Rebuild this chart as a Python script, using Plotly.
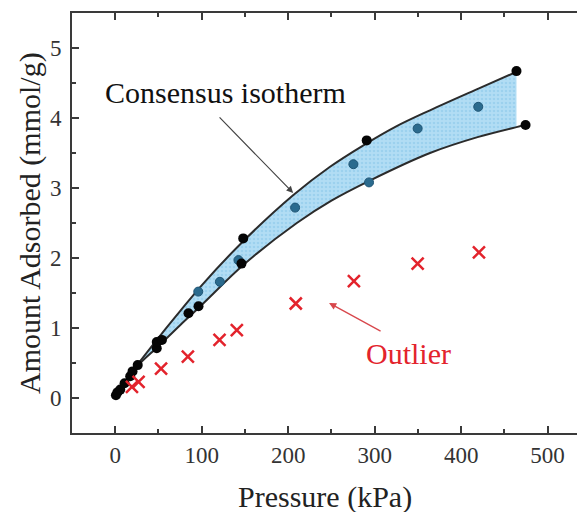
import plotly.graph_objects as go

# ---- data ----
upper_x = [0, 10, 26, 50, 75, 100, 148, 206, 248, 287, 325, 364, 420, 464]
upper_y = [0.05, 0.20, 0.48, 0.86, 1.24, 1.61, 2.24, 2.90, 3.30, 3.61, 3.88, 4.11, 4.42, 4.66]

lower_x = [0, 10, 26, 50, 75, 100, 150, 210, 250, 295, 364, 420, 464, 474.5]
lower_y = [0.05, 0.20, 0.46, 0.74, 1.04, 1.33, 1.92, 2.50, 2.82, 3.11, 3.50, 3.73, 3.87, 3.90]

black_x = [0.8, 2.5, 5.8, 10.8, 17.3, 20, 26, 48, 48, 54, 84.7, 96.3, 146, 148, 290.8, 464, 474.5]
black_y = [0.04, 0.08, 0.12, 0.21, 0.31, 0.38, 0.47, 0.71, 0.80, 0.83, 1.21, 1.31, 1.92, 2.28, 3.68, 4.67, 3.90]

teal_x = [96, 121, 142.5, 208, 275.4, 293.5, 349.7, 419.8]
teal_y = [1.52, 1.66, 1.97, 2.72, 3.34, 3.08, 3.85, 4.16]

outlier_x = [19.3, 27, 53, 84, 120.6, 140.6, 208.8, 276, 349.7, 420.6]
outlier_y = [0.16, 0.23, 0.42, 0.59, 0.83, 0.97, 1.35, 1.67, 1.92, 2.08]

x_ticks = [0, 100, 200, 300, 400, 500]
y_ticks = [0, 1, 2, 3, 4, 5]

FONT = "Liberation Serif"
LINE = "#2b2b2b"
RED = "#e3232c"

fig = go.Figure()

# band fill: lower boundary (to end of band), then upper with tonexty
n_band = len(lower_x) - 1
fig.add_trace(go.Scatter(x=lower_x[:n_band], y=lower_y[:n_band], mode="lines",
                         line=dict(color="rgba(0,0,0,0)", width=0, shape="spline"),
                         hoverinfo="skip", showlegend=False))
fig.add_trace(go.Scatter(x=upper_x, y=upper_y, mode="lines", fill="tonexty",
                         fillcolor="#aad9f2",
                         fillpattern=dict(shape=".", fgcolor="#86c6e8", bgcolor="#b2ddf4",
                                          size=4, solidity=0.35),
                         line=dict(color="rgba(0,0,0,0)", width=0, shape="spline"),
                         hoverinfo="skip", showlegend=False))
# boundary curves
fig.add_trace(go.Scatter(x=upper_x, y=upper_y, mode="lines",
                         line=dict(color=LINE, width=2, shape="spline"), showlegend=False))
fig.add_trace(go.Scatter(x=lower_x, y=lower_y, mode="lines",
                         line=dict(color=LINE, width=2, shape="spline"), showlegend=False))

# data points
fig.add_trace(go.Scatter(x=teal_x, y=teal_y, mode="markers",
                         marker=dict(color="#2b6b8e", size=9,
                                     line=dict(color="#1f5575", width=1)),
                         showlegend=False))
fig.add_trace(go.Scatter(x=black_x, y=black_y, mode="markers",
                         marker=dict(color="#050505", size=10, line=dict(width=0)),
                         showlegend=False))
fig.add_trace(go.Scatter(x=outlier_x, y=outlier_y, mode="markers",
                         marker=dict(symbol="x-thin", size=12,
                                     line=dict(color=RED, width=2.5), color=RED),
                         showlegend=False))

axis_common = dict(
    showgrid=False, zeroline=False, showline=True, linecolor="#3a3a3a", linewidth=2,
    ticks="inside", ticklen=7, tickwidth=1.5, tickcolor="#3a3a3a",
    tickfont=dict(family=FONT, size=23, color="#333333"),
)

fig.update_xaxes(**axis_common, range=[-50, 534], tickvals=x_ticks, mirror="ticks",
                 minor=dict(ticks="inside", ticklen=4, dtick=50, tick0=0,
                            tickcolor="#3a3a3a", tickwidth=1.5),
                 ticklabelstandoff=0)
fig.update_yaxes(**axis_common, range=[-0.5, 5.5], tickvals=y_ticks, mirror=False,
                 minor=dict(ticks="inside", ticklen=4, dtick=0.5, tick0=0,
                            tickcolor="#3a3a3a", tickwidth=1.5),
                 ticklabelstandoff=4)

annotations = [
    dict(text="Pressure (kPa)", xref="paper", yref="paper", x=0.5, y=0,
         yanchor="middle", yshift=-64, showarrow=False,
         font=dict(family=FONT, size=30, color="#222222")),
    dict(text="Amount Adsorbed (mmol/g)", xref="paper", yref="paper", x=0, y=0.5,
         xanchor="center", xshift=-42, textangle=-90, showarrow=False,
         font=dict(family=FONT, size=30, color="#222222")),
    dict(text="Consensus isotherm", x=127, y=4.36, xref="x", yref="y", showarrow=False,
         font=dict(family=FONT, size=30, color="#111111")),
    dict(text="", x=205.7, y=2.93, xref="x", yref="y", showarrow=True,
         ax=-75, ay=-77, arrowhead=2, arrowsize=1.1, arrowwidth=1.2, arrowcolor="#444444"),
    dict(text="Outlier", x=338.6, y=0.64, xref="x", yref="y", showarrow=False,
         font=dict(family=FONT, size=30, color=RED)),
    dict(text="", x=247.3, y=1.357, xref="x", yref="y", showarrow=True,
         ax=53, ay=29, arrowhead=2, arrowsize=1.1, arrowwidth=1.3, arrowcolor="#d8474c"),
]

fig.update_layout(
    width=577, height=512,
    margin=dict(l=72, r=0, t=13, b=79),
    paper_bgcolor="white", plot_bgcolor="white",
    annotations=annotations,
)

fig.write_html("out.html", config={"displayModeBar": False},
               post_script="document.body.style.margin='0';document.body.style.overflow='hidden';")
